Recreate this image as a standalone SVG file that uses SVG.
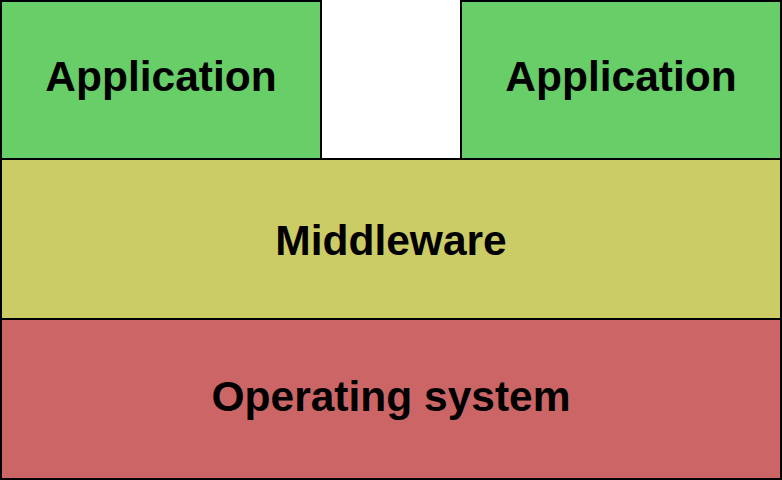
<svg xmlns="http://www.w3.org/2000/svg" width="782" height="480" viewBox="0 0 782 480">
<style>
.box{stroke:#000;stroke-width:2}
.lbl{font-family:"Liberation Sans",Arial,sans-serif;font-weight:bold;font-size:42.5px;fill:#000;text-anchor:middle}
</style>
<rect width="782" height="480" fill="#fff"/>
<g id="app1"><rect class="box" x="1" y="1" width="320" height="158" fill="#67ce68"/><text class="lbl" x="161" y="91">Application</text></g>
<g id="app2"><rect class="box" x="461" y="1" width="320" height="158" fill="#67ce68"/><text class="lbl" x="621" y="91">Application</text></g>
<g id="middleware"><rect class="box" x="1" y="159" width="780" height="160" fill="#cccc66"/><text class="lbl" x="391" y="255">Middleware</text></g>
<g id="os"><rect class="box" x="1" y="319" width="780" height="160" fill="#cc6666"/><text class="lbl" x="391" y="411">Operating system</text></g>
<g id="connectors"></g>
</svg>
